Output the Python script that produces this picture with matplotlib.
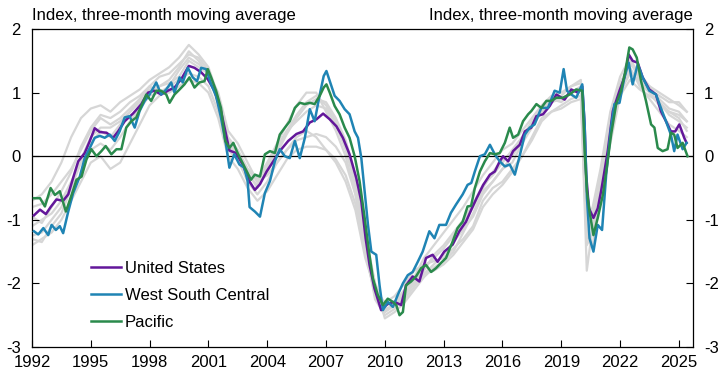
import matplotlib
matplotlib.use("Agg")
import matplotlib.pyplot as plt

plt.rcParams['font.family'] = ['Liberation Sans', 'DejaVu Sans']
plt.rcParams['axes.unicode_minus'] = False

# --- data ---
us_x = [1992.10, 1992.41, 1992.71, 1992.95, 1993.25, 1993.59, 1993.85, 1994.10, 1994.36, 1994.69,
        1994.95, 1995.20, 1995.46, 1995.80, 1996.14, 1996.39, 1996.73, 1997.15, 1997.58, 1997.92,
        1998.25, 1998.59, 1998.93, 1999.27, 1999.61, 2000.00, 2000.29, 2000.63, 2000.97, 2001.31,
        2001.64, 2001.90, 2002.07, 2002.41, 2002.75, 2003.08, 2003.37, 2003.63, 2003.97, 2004.31,
        2004.64, 2005.07, 2005.49, 2005.83, 2006.17, 2006.51, 2006.85, 2007.19, 2007.53, 2007.86,
        2008.20, 2008.54, 2008.80, 2009.02, 2009.22, 2009.47, 2009.81, 2010.15, 2010.49, 2010.83,
        2011.08, 2011.42, 2011.76, 2012.10, 2012.44, 2012.69, 2013.03, 2013.46, 2013.80, 2014.14,
        2014.41, 2014.68, 2015.02, 2015.36, 2015.61, 2015.86, 2016.03, 2016.29, 2016.54, 2016.88,
        2017.14, 2017.47, 2017.73, 2018.07, 2018.41, 2018.75, 2019.17, 2019.51, 2019.85, 2020.07,
        2020.19, 2020.27, 2020.41, 2020.64, 2020.86, 2021.03, 2021.20, 2021.37, 2021.63, 2021.97,
        2022.22, 2022.44, 2022.64, 2022.90, 2023.15, 2023.49, 2023.83, 2024.08, 2024.34, 2024.59,
        2024.81, 2025.02, 2025.27, 2025.39]
us_y = [-0.93, -0.84, -0.91, -0.80, -0.68, -0.70, -0.60, -0.34, -0.08, 0.05,
        0.24, 0.44, 0.38, 0.37, 0.29, 0.39, 0.55, 0.67, 0.82, 1.00,
        1.03, 0.97, 1.03, 1.08, 1.21, 1.42, 1.39, 1.32, 1.21, 1.03,
        0.71, 0.34, 0.09, 0.05, -0.13, -0.39, -0.53, -0.44, -0.24, -0.08,
        0.08, 0.24, 0.35, 0.39, 0.53, 0.58, 0.67, 0.58, 0.47, 0.29,
        0.03, -0.34, -0.71, -1.29, -1.71, -2.08, -2.42, -2.32, -2.29, -2.34,
        -2.03, -1.89, -1.97, -1.60, -1.55, -1.66, -1.50, -1.39, -1.18, -1.03,
        -0.84, -0.66, -0.45, -0.29, -0.24, -0.08, 0.00, -0.08, 0.08, 0.18,
        0.39, 0.45, 0.63, 0.66, 0.79, 0.97, 0.89, 1.05, 1.00, 1.10,
        0.50, -0.29, -0.82, -0.97, -0.82, -0.55, -0.24, 0.08, 0.71, 1.03,
        1.24, 1.60, 1.50, 1.47, 1.24, 1.05, 0.97, 0.71, 0.55, 0.39,
        0.39, 0.50, 0.29, 0.21]

wsc_x = [1992.10, 1992.32, 1992.58, 1992.83, 1993.00, 1993.22, 1993.42, 1993.59, 1993.85, 1994.10,
         1994.44, 1994.69, 1994.95, 1995.20, 1995.46, 1995.71, 1995.97, 1996.22, 1996.47, 1996.73,
         1996.98, 1997.24, 1997.49, 1997.75, 1998.00, 1998.34, 1998.59, 1998.85, 1999.10, 1999.27,
         1999.53, 1999.69, 1999.95, 2000.20, 2000.42, 2000.63, 2000.88, 2001.14, 2001.39, 2001.64,
         2001.90, 2002.07, 2002.32, 2002.58, 2002.83, 2003.00, 2003.10, 2003.37, 2003.63, 2003.88,
         2004.14, 2004.39, 2004.64, 2004.90, 2005.15, 2005.41, 2005.66, 2005.92, 2006.17, 2006.42,
         2006.68, 2006.88, 2007.02, 2007.19, 2007.44, 2007.69, 2007.95, 2008.20, 2008.46, 2008.63,
         2008.80, 2008.97, 2009.14, 2009.31, 2009.56, 2009.73, 2009.90, 2010.15, 2010.41, 2010.66,
         2010.92, 2011.17, 2011.42, 2011.68, 2011.93, 2012.27, 2012.53, 2012.78, 2013.12, 2013.37,
         2013.63, 2013.97, 2014.22, 2014.41, 2014.59, 2014.85, 2015.10, 2015.36, 2015.61, 2015.86,
         2016.12, 2016.37, 2016.63, 2016.85, 2017.14, 2017.39, 2017.64, 2017.98, 2018.32, 2018.66,
         2018.92, 2019.12, 2019.29, 2019.51, 2019.76, 2020.07, 2020.19, 2020.31, 2020.44, 2020.64,
         2020.86, 2021.08, 2021.29, 2021.54, 2021.71, 2021.97, 2022.22, 2022.44, 2022.64, 2022.90,
         2023.15, 2023.49, 2023.83, 2024.08, 2024.34, 2024.59, 2024.76, 2024.93, 2025.19, 2025.39]
wsc_y = [-1.18, -1.23, -1.13, -1.24, -1.08, -1.16, -1.10, -1.21, -0.87, -0.58,
         -0.32, -0.03, 0.13, 0.29, 0.32, 0.29, 0.34, 0.24, 0.39, 0.61,
         0.63, 0.45, 0.71, 0.87, 0.97, 1.16, 0.97, 1.05, 1.16, 1.00,
         1.24, 1.16, 1.39, 1.24, 1.18, 1.39, 1.37, 1.13, 0.95, 0.61,
         0.18, -0.18, 0.03, -0.13, -0.18, -0.39, -0.80, -0.87, -0.95, -0.58,
         -0.39, -0.08, 0.11, 0.00, -0.03, 0.24, -0.03, 0.29, 0.74, 0.55,
         0.97, 1.26, 1.34, 1.18, 0.95, 0.87, 0.74, 0.66, 0.39, 0.29,
         -0.03, -0.55, -1.08, -1.50, -1.55, -2.03, -2.42, -2.29, -2.37, -2.18,
         -2.00, -1.87, -1.82, -1.66, -1.50, -1.18, -1.29, -1.08, -1.08, -0.89,
         -0.76, -0.60, -0.45, -0.42, -0.24, 0.00, 0.03, 0.18, 0.03, -0.08,
         -0.16, -0.13, -0.29, -0.03, 0.34, 0.45, 0.50, 0.76, 0.76, 1.03,
         1.00, 1.37, 1.03, 0.97, 0.92, 1.13, 0.50, -0.66, -1.29, -1.50,
         -1.08, -1.16, -0.29, 0.45, 0.82, 0.84, 1.24, 1.47, 1.13, 1.45,
         1.24, 1.03, 0.97, 0.76, 0.55, 0.34, 0.08, 0.34, 0.11, 0.21]

pac_x = [1992.10, 1992.41, 1992.66, 1992.95, 1993.17, 1993.42, 1993.73, 1994.02, 1994.27, 1994.53,
         1994.78, 1995.03, 1995.29, 1995.54, 1995.76, 1996.05, 1996.31, 1996.56, 1996.81, 1997.07,
         1997.32, 1997.58, 1997.83, 1998.08, 1998.34, 1998.59, 1998.85, 1999.02, 1999.27, 1999.53,
         1999.78, 2000.03, 2000.29, 2000.54, 2000.80, 2000.97, 2001.14, 2001.39, 2001.64, 2001.86,
         2002.07, 2002.27, 2002.49, 2002.75, 2003.00, 2003.17, 2003.37, 2003.63, 2003.88, 2004.14,
         2004.39, 2004.64, 2004.90, 2005.15, 2005.41, 2005.66, 2005.92, 2006.17, 2006.42, 2006.68,
         2006.88, 2007.02, 2007.19, 2007.44, 2007.69, 2007.95, 2008.20, 2008.46, 2008.71, 2008.97,
         2009.19, 2009.39, 2009.64, 2009.90, 2010.15, 2010.41, 2010.58, 2010.75, 2010.92, 2011.08,
         2011.34, 2011.59, 2011.85, 2012.10, 2012.36, 2012.61, 2012.86, 2013.12, 2013.46, 2013.71,
         2013.97, 2014.22, 2014.40, 2014.59, 2014.85, 2015.10, 2015.36, 2015.61, 2015.86, 2016.12,
         2016.37, 2016.54, 2016.80, 2017.05, 2017.31, 2017.47, 2017.73, 2017.98, 2018.24, 2018.49,
         2018.75, 2019.08, 2019.42, 2019.76, 2020.07, 2020.19, 2020.31, 2020.44, 2020.64, 2020.86,
         2021.12, 2021.32, 2021.54, 2021.80, 2022.05, 2022.27, 2022.47, 2022.64, 2022.85, 2023.07,
         2023.32, 2023.58, 2023.75, 2023.92, 2024.17, 2024.42, 2024.59, 2024.76, 2024.93, 2025.19,
         2025.44]
pac_y = [-0.66, -0.66, -0.79, -0.50, -0.61, -0.55, -0.87, -0.61, -0.37, -0.32,
         -0.05, 0.11, 0.00, 0.08, 0.16, 0.03, 0.11, 0.11, 0.45, 0.55,
         0.61, 0.79, 0.97, 0.87, 1.03, 1.03, 0.97, 0.84, 0.97, 1.05,
         1.13, 1.24, 1.08, 1.16, 1.18, 1.37, 1.24, 1.03, 0.76, 0.24,
         0.13, 0.21, 0.05, -0.11, -0.26, -0.37, -0.29, -0.32, 0.03, 0.08,
         0.05, 0.34, 0.45, 0.55, 0.76, 0.84, 0.82, 0.84, 0.82, 0.95,
         1.08, 1.13, 1.00, 0.79, 0.66, 0.45, 0.29, 0.00, -0.39, -0.97,
         -1.50, -1.92, -2.18, -2.34, -2.24, -2.29, -2.34, -2.50, -2.45, -2.03,
         -1.97, -1.89, -1.76, -1.71, -1.82, -1.76, -1.68, -1.60, -1.34, -1.13,
         -1.03, -0.79, -0.78, -0.50, -0.24, -0.08, 0.05, 0.03, 0.05, 0.21,
         0.45, 0.29, 0.34, 0.55, 0.66, 0.71, 0.82, 0.76, 0.87, 0.87,
         0.92, 0.92, 0.97, 1.05, 1.03, 0.08, -0.55, -0.87, -1.24, -0.97,
         -0.61, -0.18, 0.34, 0.82, 1.03, 1.34, 1.71, 1.68, 1.55, 1.18,
         0.87, 0.50, 0.45, 0.13, 0.08, 0.11, 0.37, 0.34, 0.13, 0.21,
         0.00]

# other census divisions (grey)
grey_x = [1992.0, 1992.5, 1993.0, 1993.5, 1994.0, 1994.5, 1995.0, 1995.5, 1996.0, 1996.5,
          1997.0, 1997.5, 1998.0, 1998.5, 1999.0, 1999.5, 2000.0, 2000.5, 2001.0, 2001.5,
          2002.0, 2002.5, 2003.0, 2003.5, 2004.0, 2004.5, 2005.0, 2005.5, 2006.0, 2006.5,
          2007.0, 2007.5, 2008.0, 2008.5, 2009.0, 2009.5, 2010.0, 2010.5, 2011.0, 2011.5,
          2012.0, 2012.5, 2013.0, 2013.5, 2014.0, 2014.5, 2015.0, 2015.5, 2016.0, 2016.5,
          2017.0, 2017.5, 2018.0, 2018.5, 2019.0, 2019.5, 2020.0, 2020.3, 2020.6, 2021.0,
          2021.5, 2022.0, 2022.5, 2023.0, 2023.5, 2024.0, 2024.5, 2025.0, 2025.4]
grey_1 = [-0.70, -0.60, -0.40, -0.10, 0.30, 0.60, 0.75, 0.80, 0.70, 0.85,
          0.95, 1.05, 1.20, 1.30, 1.40, 1.55, 1.75, 1.60, 1.40, 0.95,
          0.30, 0.10, -0.20, -0.35, -0.10, 0.20, 0.50, 0.80, 1.00, 1.00,
          0.70, 0.40, 0.00, -0.60, -1.50, -2.20, -2.45, -2.30, -2.10, -1.90,
          -1.60, -1.40, -1.20, -1.00, -0.80, -0.55, -0.30, -0.10, 0.10, 0.20,
          0.40, 0.60, 0.80, 0.95, 1.00, 1.10, 1.20, -0.60, -1.00, -0.30,
          0.50, 1.10, 1.50, 1.20, 1.00, 0.80, 0.70, 0.60, 0.40]
grey_2 = [-1.40, -1.30, -1.20, -1.00, -0.70, -0.40, -0.10, 0.00, -0.20, -0.10,
          0.20, 0.50, 0.80, 0.95, 1.10, 1.35, 1.55, 1.45, 1.30, 1.00,
          0.40, 0.20, -0.10, -0.40, -0.30, -0.10, 0.10, 0.30, 0.40, 0.30,
          0.10, -0.10, -0.40, -0.85, -1.60, -2.10, -2.30, -2.20, -2.00, -1.80,
          -1.70, -1.65, -1.60, -1.45, -1.30, -1.10, -0.70, -0.50, -0.40, -0.20,
          0.00, 0.30, 0.60, 0.70, 0.80, 0.90, 0.95, -1.20, -1.40, -0.60,
          0.30, 1.00, 1.30, 1.20, 1.10, 1.00, 0.90, 0.80, 0.70]
grey_3 = [-1.30, -1.35, -1.10, -0.90, -0.50, -0.10, 0.20, 0.40, 0.30, 0.50,
          0.70, 0.90, 1.10, 1.00, 1.10, 1.20, 1.30, 1.25, 1.10, 0.70,
          0.10, -0.05, -0.40, -0.60, -0.40, -0.10, 0.10, 0.25, 0.30, 0.35,
          0.30, 0.15, -0.10, -0.60, -1.30, -2.00, -2.55, -2.45, -2.30, -2.10,
          -1.90, -1.75, -1.65, -1.50, -1.20, -0.90, -0.55, -0.40, -0.20, -0.10,
          0.20, 0.45, 0.70, 0.90, 0.85, 1.00, 1.05, -1.80, -1.10, -0.40,
          0.40, 1.10, 1.40, 1.10, 0.90, 0.70, 0.50, 0.40, 0.30]
grey_4 = [-0.80, -0.75, -0.60, -0.40, -0.20, 0.10, 0.40, 0.60, 0.50, 0.60,
          0.75, 0.90, 1.05, 1.10, 1.15, 1.25, 1.50, 1.40, 1.30, 0.90,
          0.20, 0.00, -0.25, -0.50, -0.20, 0.10, 0.40, 0.55, 0.70, 0.80,
          0.75, 0.50, 0.10, -0.40, -1.40, -2.25, -2.50, -2.40, -2.20, -2.00,
          -1.80, -1.55, -1.40, -1.20, -1.00, -0.75, -0.45, -0.30, -0.10, 0.10,
          0.30, 0.55, 0.75, 0.85, 0.90, 1.00, 1.05, -0.90, -1.20, -0.50,
          0.60, 1.15, 1.45, 1.30, 1.10, 0.90, 0.75, 0.70, 0.55]
grey_5 = [-1.10, -1.00, -0.90, -0.70, -0.40, -0.10, 0.10, 0.20, 0.10, 0.30,
          0.55, 0.75, 0.95, 1.00, 1.00, 1.10, 1.20, 1.15, 1.00, 0.60,
          0.00, -0.20, -0.50, -0.70, -0.55, -0.30, -0.05, 0.10, 0.15, 0.15,
          0.10, -0.05, -0.30, -0.75, -1.50, -2.10, -2.40, -2.35, -2.15, -2.00,
          -1.85, -1.80, -1.70, -1.55, -1.35, -1.15, -0.80, -0.60, -0.45, -0.25,
          0.00, 0.25, 0.55, 0.70, 0.75, 0.85, 0.90, -1.40, -1.20, -0.60,
          0.20, 0.95, 1.20, 1.05, 0.95, 0.85, 0.70, 0.65, 0.55]
grey_6 = [-1.25, -1.20, -1.00, -0.80, -0.45, -0.05, 0.30, 0.45, 0.45, 0.55,
          0.70, 0.85, 1.00, 1.10, 1.20, 1.40, 1.65, 1.50, 1.30, 0.80,
          0.15, 0.00, -0.30, -0.45, -0.25, 0.05, 0.35, 0.60, 0.80, 0.90,
          0.85, 0.60, 0.25, -0.30, -1.20, -2.00, -2.35, -2.30, -2.15, -1.95,
          -1.75, -1.60, -1.45, -1.25, -1.05, -0.80, -0.50, -0.25, -0.05, 0.05,
          0.30, 0.50, 0.70, 0.85, 0.95, 1.10, 1.15, -1.00, -0.80, -0.20,
          0.70, 1.25, 1.55, 1.25, 1.05, 0.95, 0.85, 0.85, 0.70]
grey_7 = [-0.95, -1.05, -0.80, -0.55, -0.25, 0.15, 0.45, 0.65, 0.60, 0.70,
          0.85, 0.95, 1.10, 1.25, 1.30, 1.45, 1.60, 1.55, 1.35, 0.85,
          0.25, 0.05, -0.20, -0.40, -0.15, 0.15, 0.40, 0.65, 0.85, 0.95,
          0.80, 0.55, 0.15, -0.50, -1.35, -2.15, -2.45, -2.35, -2.25, -2.05,
          -1.85, -1.70, -1.55, -1.35, -1.15, -0.95, -0.60, -0.40, -0.20, 0.00,
          0.25, 0.50, 0.75, 0.90, 0.90, 1.00, 1.10, -1.30, -0.90, -0.40,
          0.45, 1.05, 1.35, 1.15, 1.00, 0.85, 0.65, 0.55, 0.45]
greys = [grey_1, grey_2, grey_3, grey_4, grey_5, grey_6, grey_7]

x_ticks = [1992, 1995, 1998, 2001, 2004, 2007, 2010, 2013, 2016, 2019, 2022, 2025]
y_ticks = [-3, -2, -1, 0, 1, 2]

# --- plot ---
fig = plt.figure(figsize=(7.25, 3.82), dpi=100)
ax = fig.add_axes([0.0441, 0.0916, 0.9118, 0.8324])

for g in greys:
    ax.plot(grey_x, g, color='#d6d6d6', lw=1.6, zorder=1)

ax.axhline(0, color='black', lw=0.9, zorder=2)

ax.plot(us_x, us_y, color='#63179a', lw=1.8, label='United States', zorder=3)
ax.plot(wsc_x, wsc_y, color='#1f84b4', lw=1.8, label='West South Central', zorder=3)
ax.plot(pac_x, pac_y, color='#2a8a4c', lw=1.8, label='Pacific', zorder=3)

ax.set_xlim(1992, 2025.72)
ax.set_ylim(-3, 2)
ax.set_xticks(x_ticks)
ax.set_yticks(y_ticks)
ax.tick_params(axis='both', direction='in', length=5, width=0.8, labelsize=12)
ax.tick_params(axis='y', right=True, labelright=True, pad=8)
ax.tick_params(axis='x', pad=6)
for s in ax.spines.values():
    s.set_linewidth(0.9)

ax.text(0, 1.018, 'Index, three-month moving average', transform=ax.transAxes,
        ha='left', va='bottom', fontsize=12)
ax.text(1, 1.018, 'Index, three-month moving average', transform=ax.transAxes,
        ha='right', va='bottom', fontsize=12)

ax.legend(loc='upper left', bbox_to_anchor=(0.09, 0.272), frameon=False, fontsize=12,
          handlelength=1.8, handletextpad=0.2, labelspacing=0.72, borderpad=0, borderaxespad=0)

fig.savefig('out.png', dpi=100)
